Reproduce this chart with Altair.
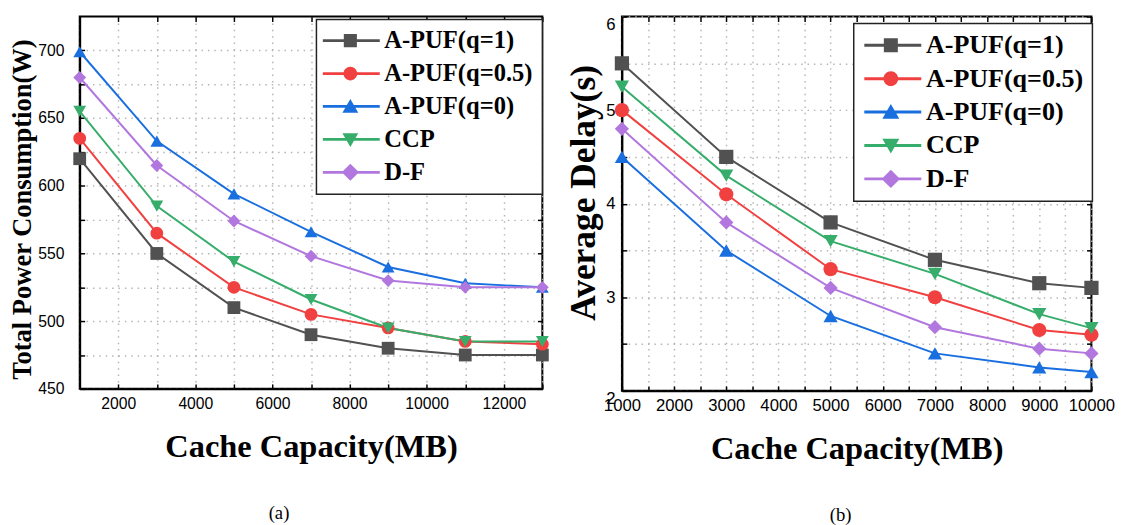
import altair as alt
import pandas as pd

series = ["A-PUF(q=1)", "A-PUF(q=0.5)", "A-PUF(q=0)", "CCP", "D-F"]
colors = ["#515151", "#F14040", "#1A6FDF", "#37AD6B", "#B177DE"]
shapes = ["square", "circle", "triangle-up", "triangle-down", "diamond"]

# (a) Total power consumption
cap_a = [1000, 3000, 5000, 7000, 9000, 11000, 13000]
power_q1 = [620, 550, 510, 490, 480, 475, 475]
power_q05 = [635, 565, 525, 505, 495, 485, 483]
power_q0 = [699, 633, 594, 566, 540, 528, 525]
power_ccp = [655, 585, 544, 516, 495, 485, 485]
power_df = [680, 615, 574, 548, 530, 525, 525]

# (b) Average delay
cap_b = [1000, 3000, 5000, 7000, 9000, 10000]
delay_q1 = [5.5, 4.5, 3.8, 3.4, 3.15, 3.1]
delay_q05 = [5.0, 4.1, 3.3, 3.0, 2.65, 2.6]
delay_q0 = [4.5, 3.5, 2.8, 2.4, 2.25, 2.2]
delay_ccp = [5.25, 4.3, 3.6, 3.25, 2.82, 2.67]
delay_df = [4.8, 3.8, 3.1, 2.68, 2.45, 2.4]

xa_ticks = list(range(1000, 13001, 1000))
ya_ticks = list(range(450, 701, 25))
xb_ticks = list(range(1000, 10001, 500))
yb_ticks = [2 + 0.5 * i for i in range(9)]


def legend_paths(c, x0, x1):
    """Legend symbols: a line segment with the marker on it (units of sqrt(size)/2)."""
    f = lambda v: f"{v:.2f}"
    line = f"M{f(x0)},-0.2L{f(x1)},-0.2L{f(x1)},0.2L{f(x0)},0.2Z"
    return [
        line + f"M{f(c-0.95)},-0.95L{f(c+0.95)},-0.95L{f(c+0.95)},0.95L{f(c-0.95)},0.95Z",
        line + f"M{f(c+1)},0A1,1,0,1,1,{f(c-1)},0A1,1,0,1,1,{f(c+1)},0Z",
        line + f"M{f(c)},-1.1L{f(c+1.15)},0.9L{f(c-1.15)},0.9Z",
        line + f"M{f(c)},1.1L{f(c-1.15)},-0.9L{f(c+1.15)},-0.9Z",
        line + f"M{f(c)},-1.25L{f(c+1.25)},0L{f(c)},1.25L{f(c-1.25)},0Z",
    ]


def long_df(xs, cols):
    rows = []
    for name, vals in zip(series, cols):
        for x, v in zip(xs, vals):
            rows.append({"cap": x, "val": v, "series": name})
    return pd.DataFrame(rows)


df_a = long_df(cap_a, [power_q1, power_q05, power_q0, power_ccp, power_df])
df_b = long_df(cap_b, [delay_q1, delay_q05, delay_q0, delay_ccp, delay_df])

INWARD = alt.ExprRef(expr="-5")


def panel(df, xdom, xvals, xlab, ydom, yvals, ylab, ytitle, ytitle_size, ytitle_y,
          w, h, lgx, lgy, lg_font, lg_size, lg_row, lg_offset, lg_pad, lg_paths,
          caption, xtick_font, ytick_font, ylab_pad, ytitle_pad, ylab_baseline, pt_size):
    xs = alt.Scale(domain=xdom, nice=False, zero=False)
    ys = alt.Scale(domain=ydom, nice=False, zero=False)
    cscale = alt.Scale(domain=series, range=colors)

    main_x = alt.Axis(
        values=xvals, labelExpr=xlab, title="Cache Capacity(MB)",
        labelFont="Liberation Sans", labelFontSize=xtick_font, labelColor="black",
        labelPadding=12, labelOverlap=False, labelBound=False, labelFlush=False,
        titleFont="Liberation Serif", titleFontWeight="bold", titleFontSize=33,
        titleColor="black", titlePadding=20,
        grid=True, gridDash=[1.5, 5], gridColor="#b5b5b5", gridWidth=1.5,
        domainColor="black", domainWidth=2,
        tickColor="black", tickWidth=1.5, tickSize=INWARD,
    )
    main_y = alt.Axis(
        values=yvals, labelExpr=ylab, title=ytitle,
        labelFont="Liberation Sans", labelFontSize=ytick_font, labelColor="black",
        labelPadding=ylab_pad, labelOverlap=False, labelBound=False, labelFlush=False,
        labelBaseline=ylab_baseline,
        titleFont="Liberation Serif", titleFontWeight="bold", titleFontSize=ytitle_size,
        titleColor="black", titlePadding=ytitle_pad, titleY=ytitle_y,
        grid=True, gridDash=[1.5, 5], gridColor="#b5b5b5", gridWidth=1.5,
        domainColor="black", domainWidth=2,
        tickColor="black", tickWidth=1.5, tickSize=INWARD,
    )
    top_x = alt.Axis(orient="top", values=xvals, labels=False, title=None, grid=False,
                     domain=False, tickColor="black", tickWidth=1.5, tickSize=INWARD)
    right_y = alt.Axis(orient="right", values=yvals, labels=False, title=None, grid=False,
                       domain=False, tickColor="black", tickWidth=1.5, tickSize=INWARD)

    lg = alt.Legend(
        orient="none", legendX=lgx, legendY=lgy, title=None,
        strokeColor="#222222", fillColor="white", padding=lg_pad,
        labelFont="Liberation Serif", labelFontWeight="bold", labelFontSize=lg_font,
        labelColor="black", labelOffset=lg_offset, labelLimit=300,
        symbolSize=lg_size, symbolStrokeWidth=0, symbolOpacity=1,
        rowPadding=lg_row, direction="vertical",
    )

    lines = alt.Chart(df).mark_line(strokeWidth=2).encode(
        x=alt.X("cap:Q", scale=xs, axis=main_x),
        y=alt.Y("val:Q", scale=ys, axis=main_y),
        color=alt.Color("series:N", scale=cscale, legend=None),
    )
    points = alt.Chart(df).mark_point(filled=True, size=pt_size, opacity=1).encode(
        x=alt.X("cap:Q", scale=xs, axis=top_x),
        y=alt.Y("val:Q", scale=ys, axis=right_y),
        color=alt.Color("series:N", scale=cscale, legend=None),
        shape=alt.Shape("series:N", scale=alt.Scale(domain=series, range=shapes), legend=None),
    )
    legend_layer = alt.Chart(df).transform_filter("false").mark_point(
        filled=True, opacity=1
    ).encode(
        x=alt.X("cap:Q", scale=xs, axis=None),
        y=alt.Y("val:Q", scale=ys, axis=None),
        color=alt.Color("series:N", scale=alt.Scale(domain=series, range=colors), legend=lg),
        shape=alt.Shape("series:N", scale=alt.Scale(domain=series, range=lg_paths), legend=lg),
    )
    return alt.layer(lines, points, legend_layer).resolve_scale(
        color="independent", shape="independent"
    ).resolve_axis(x="independent", y="independent").properties(
        width=w, height=h,
        title=alt.TitleParams(caption, orient="bottom", font="Liberation Serif",
                              fontSize=19, fontWeight="normal", color="black",
                              offset=42, anchor="middle", frame="bounds"),
    )


left = panel(
    df_a, [1000, 13000], xa_ticks,
    "datum.value % 2000 == 0 ? format(datum.value, 'd') : ''",
    [450, 725], ya_ticks,
    "datum.value % 50 == 0 ? format(datum.value, 'd') : ''",
    "Total Power Consumption(W)", 27, 196, 471, 379,
    241, 3, 25, 196, 7.5, 35, 9, legend_paths(1.86, -2.14, 6.14),
    "(a)", 16, 16, 21, 1, "middle", 170,
)
right = panel(
    df_b, [1000, 10000], xb_ticks,
    "datum.value % 1000 == 0 ? format(datum.value, 'd') : ''",
    [2, 6], yb_ticks,
    "datum.value % 1 == 0 ? format(datum.value, 'd') : ''",
    "Average Delay(s)", 36, 179, 478, 381,
    236, 7, 26.5, 225, 7, 38, 9, legend_paths(2.07, -1.53, 6.2),
    "(b)", 17, 17, 12, 3,
    {"condition": {"test": "datum.value == 6 || datum.value == 2", "value": "top"},
     "value": "middle"},
    210,
)

chart = alt.hconcat(left, right, spacing=15).properties(
    padding={"left": 0, "top": 2, "right": 0, "bottom": 0}
).configure_view(stroke="black", strokeWidth=2).configure_legend(strokeWidth=1.5)

chart.save("out.html", embed_options={"renderer": "svg", "actions": False})
